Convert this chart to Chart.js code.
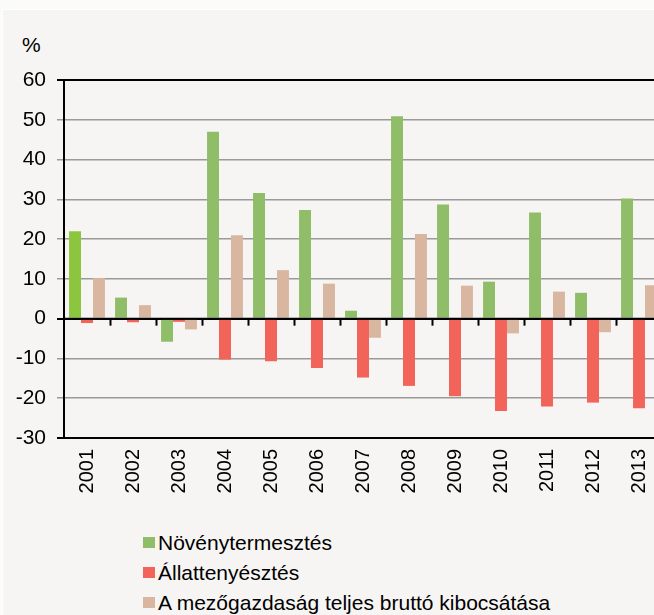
<!DOCTYPE html>
<html>
<head>
<meta charset="utf-8">
<script src="https://cdn.jsdelivr.net/npm/chart.js@4/dist/chart.umd.min.js"></script>
<style>
  html, body { margin: 0; padding: 0; width: 654px; height: 615px; overflow: hidden; background: #fbfbfa; font-family: "Liberation Sans", Arial, sans-serif; }
  #panel { position: absolute; left: 2px; top: 9px; width: 700px; height: 620px; background: #f6f5f3; border-top: 1px solid #ffffff; border-left: 1px solid #ffffff; }
  #wrap { position: absolute; left: 0; top: 0; width: 680px; height: 510px; }
  #unit { position: absolute; left: 22px; top: 33px; font-size: 21px; color: #000; }
  #legend { position: absolute; left: 143px; top: 528px; font-size: 21px; color: #000; }
  .item { height: 30px; line-height: 30px; white-space: nowrap; }
  .box { display: inline-block; width: 12px; height: 11px; margin-right: 3px; vertical-align: middle; position: relative; top: -2px; }
</style>
</head>
<body>
<div id="panel"></div>
<div id="unit">%</div>
<div id="wrap"><canvas id="c"></canvas></div>
<div id="legend"></div>
<script>
const years = ["2001","2002","2003","2004","2005","2006","2007","2008","2009","2010","2011","2012","2013"];
const seriesNames = ["Növénytermesztés", "Állattenyésztés", "A mezőgazdaság teljes bruttó kibocsátása"];
const novenytermesztes = [22, 5.3, -5.8, 47, 31.6, 27.3, 2.0, 50.9, 28.7, 9.3, 26.7, 6.5, 30.2];
const allattenyesztes  = [-1.1, -0.9, -0.8, -10.3, -10.7, -12.4, -14.8, -16.9, -19.5, -23.2, -22.1, -21.1, -22.5];
const teljes           = [10.2, 3.4, -2.7, 21.0, 12.2, 8.8, -4.8, 21.3, 8.3, -3.7, 6.8, -3.4, 8.4];
const yTicks = { min: -30, max: 60, step: 10 };

const GREEN = "#8fbd68", GREEN_FIRST = "#8cc63f", RED = "#f2635a", TAN = "#d8b6a0";
const colors = [GREEN, RED, TAN];

const isDark = ctx => ctx.tick && (ctx.tick.value === yTicks.max || ctx.tick.value === yTicks.min || ctx.tick.value === 0);

const zeroTicks = {
  id: "zeroTicks",
  afterDraw(chart) {
    const x = chart.scales.x, y = chart.scales.y, ctx = chart.ctx;
    const y0 = y.getPixelForValue(0);
    ctx.save();
    ctx.strokeStyle = "#000";
    ctx.lineWidth = 2;
    ctx.beginPath();
    ctx.moveTo(chart.chartArea.left, y0);
    ctx.lineTo(chart.chartArea.right, y0);
    ctx.stroke();
    for (let i = 1; i < years.length; i++) {
      const bx = (x.getPixelForValue(i - 1) + x.getPixelForValue(i)) / 2;
      ctx.beginPath();
      ctx.moveTo(Math.round(bx) + 0.5, y0);
      ctx.lineTo(Math.round(bx) + 0.5, y0 + 7);
      ctx.stroke();
    }
    ctx.restore();
  }
};

new Chart(document.getElementById("c"), {
  type: "bar",
  data: {
    labels: years,
    datasets: [
      { label: seriesNames[0], data: novenytermesztes, backgroundColor: novenytermesztes.map((v, i) => i === 0 ? GREEN_FIRST : GREEN) },
      { label: seriesNames[1], data: allattenyesztes, backgroundColor: RED },
      { label: seriesNames[2], data: teljes, backgroundColor: TAN }
    ]
  },
  options: {
    responsive: true,
    maintainAspectRatio: false,
    animation: false,
    layout: { padding: { top: 80, left: 0, right: 18, bottom: 0 } },
    datasets: { bar: { categoryPercentage: 0.78, barPercentage: 1.0 } },
    plugins: { legend: { display: false }, tooltip: { enabled: false } },
    scales: {
      y: {
        min: yTicks.min, max: yTicks.max,
        ticks: { stepSize: yTicks.step, color: "#000", font: { family: "Liberation Sans", size: 21 }, padding: 11 },
        grid: {
          color: ctx => isDark(ctx) ? "#000" : "#9a9a9a",
          lineWidth: ctx => isDark(ctx) ? 2 : 1.5,
          tickLength: 7,
          tickColor: ctx => isDark(ctx) ? "#000" : "#9a9a9a"
        },
        border: { color: "#000", width: 2 },
        afterFit: s => { s.width = 64; }
      },
      x: {
        offset: true,
        grid: { display: false, drawTicks: false },
        border: { display: false },
        ticks: { color: "#000", font: { family: "Liberation Sans", size: 20 }, minRotation: 90, maxRotation: 90, padding: 11, autoSkip: false },
        afterFit: s => { s.height = 72; }
      }
    }
  },
  plugins: [zeroTicks]
});

const lg = document.getElementById("legend");
seriesNames.forEach((n, i) => {
  const d = document.createElement("div");
  d.className = "item";
  d.innerHTML = '<span class="box" style="background:' + colors[i] + '"></span>' + n;
  lg.appendChild(d);
});
</script>
</body>
</html>
